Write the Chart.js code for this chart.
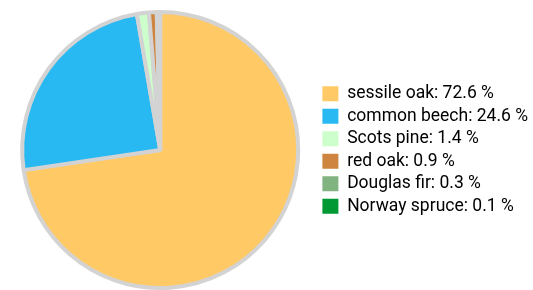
<!DOCTYPE html>
<html>
<head>
<meta charset="utf-8">
<script src="https://cdn.jsdelivr.net/npm/chart.js"></script>
<style>
  html, body { margin: 0; padding: 0; background: #fff; }
  #wrap { width: 533px; height: 290px; }
</style>
</head>
<body>
<div id="wrap"><canvas id="pie-chart" width="533" height="290"></canvas></div>
<script>
// tree species share (%)
var species = ["sessile oak", "common beech", "Scots pine", "red oak", "Douglas fir", "Norway spruce"];
var shares = [72.6, 24.6, 1.4, 0.9, 0.3, 0.1];
var colors = ['#ffc966', '#29b9f2', '#ccffcc', '#cd853f', '#80b380', '#009933'];

new Chart(document.getElementById("pie-chart"), {
    type: 'pie',
    data: {
        labels: species,
        datasets: [
            {
                data: shares,
                backgroundColor: colors,
                borderColor: '#d3d3d3',
                borderWidth: 4
            }
        ]
    },
    options: {
        responsive: false,
        animation: false,
        layout: {padding: {top: 10, bottom: 0, left: 3, right: -5}},
        plugins: {
            tooltip: {enabled: false},
            legend: {
                position: 'right',
                labels: {
                    font: {family: 'Roboto', size: 17.5},
                    color: '#222',
                    boxWidth: 16,
                    boxHeight: 15,
                    padding: 5,
                    generateLabels: function(chart) {
                        return species.map(function(name, i) {
                            return {
                                text: name + ': ' + shares[i] + ' %',
                                fillStyle: colors[i],
                                strokeStyle: colors[i],
                                lineWidth: 0,
                                index: i
                            };
                        });
                    }
                }
            }
        }
    }
});
</script>
</body>
</html>
